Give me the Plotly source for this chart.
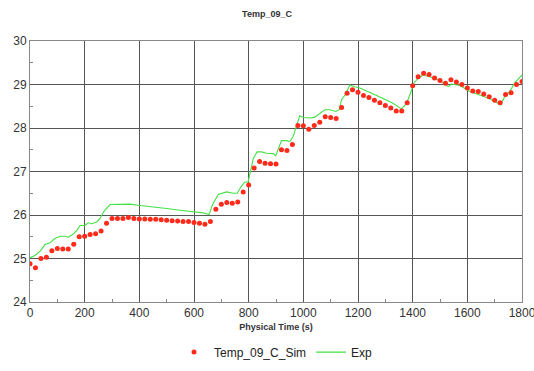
import plotly.graph_objects as go

# Simulation (red dots), every 20 s
sim_t = list(range(0, 1801, 20))
sim_v = [24.88, 24.79, 25.00, 25.03, 25.18, 25.23, 25.22, 25.22, 25.33, 25.50,
         25.51, 25.55, 25.57, 25.63, 25.81, 25.92, 25.92, 25.92, 25.94, 25.92,
         25.91, 25.91, 25.90, 25.90, 25.89, 25.88, 25.87, 25.86, 25.85, 25.85,
         25.83, 25.81, 25.79, 25.85, 26.13, 26.25, 26.29, 26.27, 26.30, 26.53,
         26.69, 27.08, 27.23, 27.19, 27.18, 27.17, 27.50, 27.48, 27.62, 28.06,
         28.05, 27.97, 28.06, 28.13, 28.26, 28.24, 28.22, 28.47, 28.80, 28.88,
         28.82, 28.75, 28.70, 28.64, 28.58, 28.52, 28.46, 28.39, 28.39, 28.58,
         28.97, 29.18, 29.26, 29.23, 29.15, 29.09, 29.03, 29.11, 29.06, 29.00,
         28.92, 28.85, 28.84, 28.78, 28.72, 28.64, 28.58, 28.77, 28.81, 29.00,
         29.07]

# Experiment (green line)
exp_t = [0, 18, 37, 55, 73, 91, 110, 128, 140, 156, 171, 183, 201, 213, 226, 244,
         256, 271, 293, 329, 366, 402, 451, 500, 548, 597, 633, 655, 668, 689, 719,
         743, 758, 773, 786, 798, 807, 817, 831, 847, 865, 890, 899, 912, 920, 938,
         951, 963, 973, 987, 1000, 1024, 1042, 1060, 1079, 1097, 1119, 1131, 1140,
         1155, 1170, 1188, 1207, 1268, 1328, 1359, 1377, 1392, 1404, 1420, 1438,
         1463, 1499, 1530, 1542, 1572, 1609, 1645, 1682, 1712, 1721, 1737, 1755,
         1773, 1785, 1800]
exp_v = [25.02, 25.07, 25.17, 25.32, 25.36, 25.46, 25.51, 25.51, 25.49, 25.55,
         25.64, 25.76, 25.76, 25.82, 25.80, 25.84, 25.92, 26.09, 26.24, 26.24,
         26.25, 26.22, 26.19, 26.15, 26.11, 26.07, 26.05, 26.01, 26.24, 26.47,
         26.53, 26.50, 26.50, 26.66, 26.76, 26.76, 27.04, 27.30, 27.45, 27.45,
         27.42, 27.41, 27.36, 27.58, 27.71, 27.71, 27.69, 27.81, 28.03, 28.28,
         28.24, 28.23, 28.25, 28.33, 28.42, 28.42, 28.38, 28.42, 28.65, 28.78,
         28.99, 28.95, 28.92, 28.75, 28.57, 28.44, 28.56, 28.80, 29.03, 29.14,
         29.22, 29.18, 29.09, 28.95, 29.01, 28.98, 28.84, 28.76, 28.67, 28.57,
         28.53, 28.72, 28.84, 29.03, 29.11, 29.22]

font = "Liberation Sans, Arial, sans-serif"

fig = go.Figure()
fig.add_trace(go.Scatter(x=exp_t, y=exp_v, mode="lines", name="Exp",
                         line=dict(color="#44e044", width=1.1)))
fig.add_trace(go.Scatter(x=sim_t, y=sim_v, mode="markers", name="Temp_09_C_Sim",
                         marker=dict(color="#ff2a1a", size=5)))

fig.update_layout(
    width=534, height=371,
    margin=dict(l=30, r=12, t=41, b=69, autoexpand=False),
    paper_bgcolor="white", plot_bgcolor="white",
    font=dict(family=font, color="#222"),
    title=dict(text="<b>Temp_09_C</b>", x=0.5, xanchor="center", y=0.962,
               yanchor="middle", font=dict(size=9, color="#333")),
    showlegend=True,
    legend=dict(orientation="h", x=0.5, xanchor="center", yref="container",
                y=0.051, yanchor="middle",
                font=dict(size=12, color="#222"), traceorder="reversed",
                itemwidth=30),
)
fig.update_xaxes(range=[0, 1800], dtick=200, showgrid=True, gridcolor="#555",
                 gridwidth=1, showline=True, linecolor="#888", mirror=True,
                 zeroline=False, ticks="", tickfont=dict(size=12, color="#333"),
                 ticklabeloverflow="allow", automargin=False,
                 minor=dict(dtick=100, ticks="inside", ticklen=3, tickcolor="#888",
                            showgrid=False),
                 title=dict(text="<b>Physical Time (s)</b>", font=dict(size=9, color="#333"),
                            standoff=4))
fig.update_yaxes(range=[24, 30], dtick=1, showgrid=True, gridcolor="#555",
                 gridwidth=1, showline=True, linecolor="#888", mirror=True,
                 zeroline=False, ticks="", tickfont=dict(size=12, color="#333"),
                 automargin=False,
                 minor=dict(dtick=0.5, ticks="inside", ticklen=3, tickcolor="#888",
                            showgrid=False))

fig.write_html("out.html")
